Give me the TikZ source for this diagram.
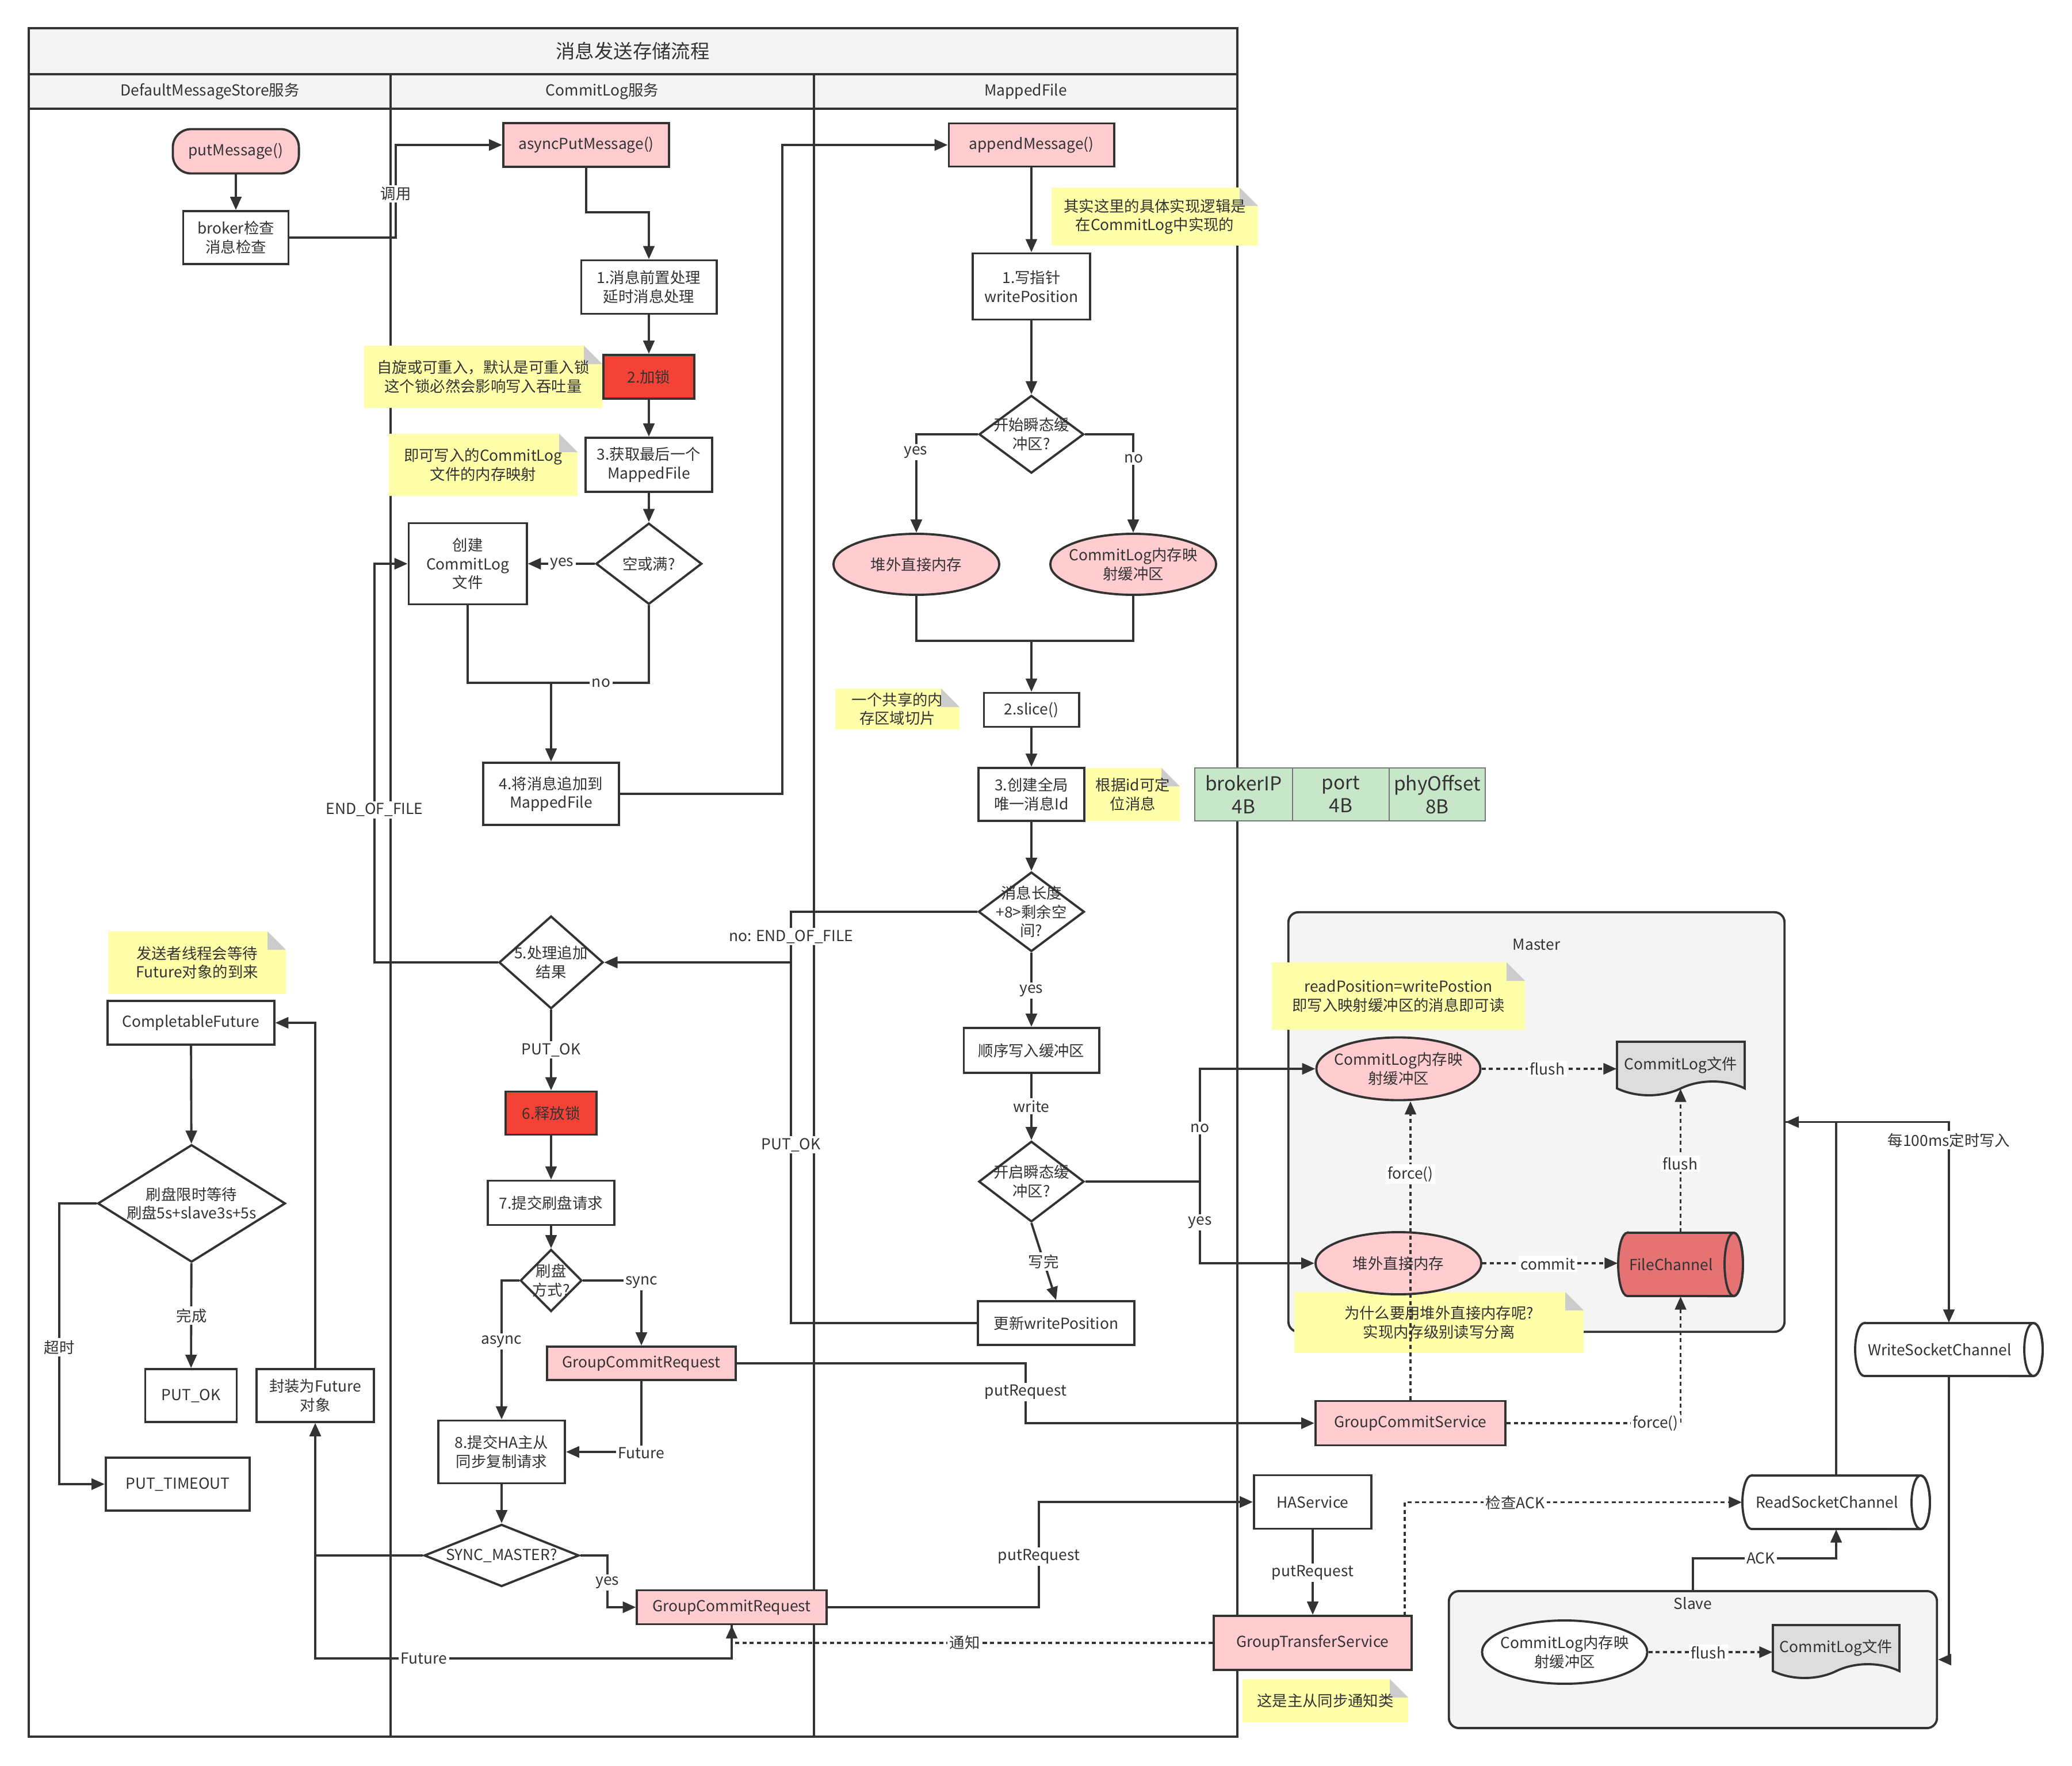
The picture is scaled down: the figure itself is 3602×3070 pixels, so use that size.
\documentclass[tikz,border=0pt]{standalone}
\usepackage{fontspec}
\setmainfont{Noto Sans CJK SC}
\usetikzlibrary{arrows.meta,shapes.geometric}
\definecolor{ln}{HTML}{333333}
\definecolor{pinkf}{HTML}{FFCCD0}
\definecolor{redf}{HTML}{F44336}
\definecolor{notef}{HTML}{FFFFAA}
\definecolor{foldf}{HTML}{CCCCCC}
\definecolor{greenf}{HTML}{C8E6C9}
\definecolor{cellln}{HTML}{777777}
\definecolor{greyf}{HTML}{F4F4F4}
\definecolor{docf}{HTML}{DDDDDD}
\definecolor{chanf}{HTML}{E57373}
\newcommand\fsn{\fontsize{7.5}{9.2}\selectfont}
\newcommand\fst{\fontsize{9.5}{11}\selectfont}
\newcommand\fsb{\fontsize{9.5}{11.5}\selectfont}
% sticky note: name, x0, y0, x1, y1, text (folded top-right corner)
\newcommand\stickynote[6]{%
  \fill[notef] (#2,#3) -- ({#4-32},#3) -- (#4,{#3+32}) -- (#4,#5) -- (#2,#5) -- cycle;
  \fill[foldf] ({#4-32},#3) -- ({#4-32},{#3+32}) -- (#4,{#3+32}) -- cycle;
  \node[txt] (#1) at ({(#2+#4)/2},{(#3+#5)/2}) {#6};}
\begin{document}
\begin{tikzpicture}[x=0.01cm,y=-0.01cm,
  every node/.style={font=\fsn, text=ln},
  txt/.style={align=center, inner sep=0pt},
  ghost/.style={inner sep=0pt},
  box/.style={rectangle, draw=ln, line width=1.1pt, fill=white, align=center, inner sep=0pt},
  pinkbox/.style={box, fill=pinkf},
  redbox/.style={box, fill=redf},
  dia/.style={diamond, draw=ln, line width=1.1pt, fill=white, inner sep=0pt},
  oval/.style={ellipse, draw=ln, line width=1.1pt, fill=pinkf, align=center, inner xsep=-8pt, inner ysep=0pt},
  cell/.style={rectangle, draw=cellln, line width=0.8pt, fill=greenf, align=center, inner sep=0pt, font=\fsb, minimum height=0.92cm},
  wire/.style={draw=ln, line width=1.1pt},
  conn/.style={wire, -{Triangle[length=6.5pt,width=5.5pt]}},
  dotline/.style={dash pattern=on 2pt off 1.6pt},
  lbl/.style={fill=white, inner sep=1pt},
  container/.style={draw=ln, line width=1.1pt, fill=greyf, rounded corners=5pt, inner sep=0pt}]

\fill[white] (0,0) rectangle (3602,3070);
\useasboundingbox (0,0) rectangle (3602,3070);

% swimlane frame
\fill[greyf] (50,49) rectangle (2151,189);
\draw[wire] (50,49) rectangle (2151,3019);
\draw[wire] (50,129) -- (2151,129);
\draw[wire] (50,189) -- (2151,189);
\draw[wire] (679,129) -- (679,3019);
\draw[wire] (1415,129) -- (1415,3019);
\node[txt, font=\fst] (title) at (1100,89) {消息发送存储流程};
\node[txt] (lane1) at (365,159) {DefaultMessageStore服务};
\node[txt] (lane2) at (1047,159) {CommitLog服务};
\node[txt] (lane3) at (1783,159) {MappedFile};

% master / slave groups
\node[container, minimum width=8.62cm, minimum height=7.29cm] (master) at (2671,1950.5) {};
\node[txt] (masterT) at (2671,1642) {Master};
\node[container, minimum width=8.48cm, minimum height=2.38cm] (slave) at (2943,2885) {};
\node[txt] (slaveT) at (2943,2787) {Slave};

% message id layout
\node[cell, minimum width=1.70cm] (tIP) at (2162,1381) {brokerIP\\4B};
\node[cell, minimum width=1.68cm] (tPort) at (2331,1381) {port\\4B};
\node[cell, minimum width=1.67cm] (tOff) at (2498.5,1381) {phyOffset\\8B};

% notes
\stickynote{nLock}{633}{601}{1047}{709}{自旋或可重入，默认是可重入锁\\这个锁必然会影响写入吞吐量}
\stickynote{nMap}{676}{754}{1004}{862}{即可写入的CommitLog\\文件的内存映射}
\stickynote{nImpl}{1828}{326}{2187}{427}{其实这里的具体实现逻辑是\\在CommitLog中实现的}
\stickynote{nSlice}{1452}{1197}{1668}{1268}{一个共享的内\\存区域切片}
\stickynote{nId}{1888}{1335}{2051}{1427}{根据id可定\\位消息}
\stickynote{nFuture}{188}{1619}{497}{1728}{发送者线程会等待\\Future对象的到来}
\stickynote{nRead}{2211}{1673}{2651}{1790}{readPosition=writePostion\\即写入映射缓冲区的消息即可读}
\stickynote{nWhy}{2250}{2246}{2753}{2352}{为什么要用堆外直接内存呢?\\实现内存级别读写分离}
\stickynote{nGts}{2160}{2919}{2448}{2994}{这是主从同步通知类}

% document shapes
\filldraw[fill=docf, draw=ln, line width=1.1pt] (2811,1811) -- (3033,1811) -- (3033,1892)
  .. controls (2999.7,1876) and (2955.3,1876) .. (2922,1892)
  .. controls (2888.7,1908) and (2844.3,1908) .. (2811,1892) -- cycle;
\filldraw[fill=docf, draw=ln, line width=1.1pt] (3082,2825) -- (3302,2825) -- (3302,2905)
  .. controls (3269,2889) and (3225,2889) .. (3192,2905)
  .. controls (3159,2921) and (3115,2921) .. (3082,2905) -- cycle;

% horizontal cylinders
\filldraw[fill=chanf, draw=ln, line width=1.1pt] (2829,2143) -- (3014,2143)
  arc[start angle=90, end angle=-90, x radius=0.16cm, y radius=0.55cm] -- (2829,2253)
  arc[start angle=270, end angle=90, x radius=0.16cm, y radius=0.55cm] -- cycle;
\draw[wire] (3014,2198) ellipse [x radius=0.16cm, y radius=0.55cm];
\filldraw[fill=white, draw=ln, line width=1.1pt] (3045,2565) -- (3339,2565)
  arc[start angle=90, end angle=-90, x radius=0.16cm, y radius=0.465cm] -- (3045,2658)
  arc[start angle=270, end angle=90, x radius=0.16cm, y radius=0.465cm] -- cycle;
\draw[wire] (3339,2611.5) ellipse [x radius=0.16cm, y radius=0.465cm];
\filldraw[fill=white, draw=ln, line width=1.1pt] (3241,2300) -- (3535,2300)
  arc[start angle=90, end angle=-90, x radius=0.16cm, y radius=0.46cm] -- (3241,2392)
  arc[start angle=270, end angle=90, x radius=0.16cm, y radius=0.46cm] -- cycle;
\draw[wire] (3535,2346) ellipse [x radius=0.16cm, y radius=0.46cm];

% ---- DefaultMessageStore lane
\node[pinkbox, rounded corners=9pt, minimum width=2.19cm, minimum height=0.77cm] (putMsg) at (410,263) {putMessage()};
\node[box, minimum width=1.83cm, minimum height=0.92cm] (broker) at (410,413) {broker检查\\消息检查};
\node[box, minimum width=2.89cm, minimum height=0.76cm] (cf) at (332,1778) {CompletableFuture};
\node[dia, minimum width=3.26cm, minimum height=2.04cm] (dWait) at (333,2092) {};
\node[txt] (dWaitT) at (dWait) {刷盘限时等待\\刷盘5s+slave3s+5s};
\node[box, minimum width=1.59cm, minimum height=0.92cm] (putok) at (332,2426) {PUT\_OK};
\node[box, minimum width=2.50cm, minimum height=0.92cm] (putto) at (309,2580) {PUT\_TIMEOUT};
\node[box, minimum width=2.04cm, minimum height=0.92cm] (wrapF) at (548,2426) {封装为Future\\对象};

% ---- CommitLog lane
\node[pinkbox, minimum width=2.88cm, minimum height=0.76cm] (async) at (1019,252) {asyncPutMessage()};
\node[box, minimum width=2.35cm, minimum height=0.93cm] (pre) at (1128,499) {1.消息前置处理\\延时消息处理};
\node[redbox, minimum width=1.58cm, minimum height=0.76cm] (lock) at (1128,655) {2.加锁};
\node[box, minimum width=2.20cm, minimum height=0.94cm] (last) at (1128,808) {3.获取最后一个\\MappedFile};
\node[dia, minimum width=1.84cm, minimum height=1.41cm] (dFull) at (1128,980) {};
\node[txt] (dFullT) at (dFull) {空或满?};
\node[box, minimum width=2.05cm, minimum height=1.41cm] (create) at (813,980) {创建\\CommitLog\\文件};
\node[box, minimum width=2.36cm, minimum height=1.08cm] (append) at (958,1380) {4.将消息追加到\\MappedFile};
\node[dia, minimum width=1.81cm, minimum height=1.61cm] (dRes) at (958,1673) {};
\node[txt] (dResT) at (dRes) {5.处理追加\\结果};
\node[redbox, minimum width=1.58cm, minimum height=0.75cm] (unlock) at (958,1935) {6.释放锁};
\node[box, minimum width=2.20cm, minimum height=0.77cm] (submit) at (958,2091) {7.提交刷盘请求};
\node[dia, minimum width=1.07cm, minimum height=1.08cm] (dMode) at (958,2226) {};
\node[txt] (dModeT) at (dMode) {刷盘\\方式?};
\node[pinkbox, minimum width=3.28cm, minimum height=0.58cm] (gcr1) at (1115,2370) {GroupCommitRequest};
\node[box, minimum width=2.20cm, minimum height=1.09cm] (ha) at (872,2524) {8.提交HA主从\\同步复制请求};
\node[dia, minimum width=2.69cm, minimum height=1.08cm] (dSync) at (872,2704) {};
\node[txt] (dSyncT) at (dSync) {SYNC\_MASTER?};
\node[pinkbox, minimum width=3.29cm, minimum height=0.59cm] (gcr2) at (1272,2794) {GroupCommitRequest};

% ---- MappedFile lane
\node[pinkbox, minimum width=2.87cm, minimum height=0.75cm] (appendM) at (1793,252) {appendMessage()};
\node[box, minimum width=2.04cm, minimum height=1.15cm] (wp) at (1793,498) {1.写指针\\writePosition};
\node[dia, minimum width=1.82cm, minimum height=1.35cm] (dTrans) at (1793,755) {};
\node[txt] (dTransT) at (dTrans) {开始瞬态缓\\冲区?};
\node[oval, minimum width=2.88cm, minimum height=1.06cm] (eDirect) at (1593,981) {堆外直接内存};
\node[oval, minimum width=2.88cm, minimum height=1.06cm] (eMap) at (1970,981) {CommitLog内存映\\射缓冲区};
\node[box, minimum width=1.65cm, minimum height=0.59cm] (slice) at (1793,1234) {2.slice()};
\node[box, minimum width=1.84cm, minimum height=0.92cm] (msgid) at (1793,1381) {3.创建全局\\唯一消息Id};
\node[dia, minimum width=1.84cm, minimum height=1.38cm] (dLen) at (1793,1585) {};
\node[txt] (dLenT) at (dLen) {消息长度\\+8>剩余空\\间?};
\node[box, minimum width=2.35cm, minimum height=0.78cm] (seq) at (1793,1826) {顺序写入缓冲区};
\node[dia, minimum width=1.83cm, minimum height=1.40cm] (dOpen) at (1793,2054) {};
\node[txt] (dOpenT) at (dOpen) {开启瞬态缓\\冲区?};
\node[box, minimum width=2.72cm, minimum height=0.76cm] (upd) at (1836,2300) {更新writePosition};

% ---- master / slave internals
\node[oval, minimum width=2.85cm, minimum height=1.09cm] (mMap) at (2431,1858) {CommitLog内存映\\射缓冲区};
\node[ghost, minimum width=2.22cm, minimum height=0.81cm] (mFile) at (2922,1851.5) {CommitLog文件};
\node[oval, minimum width=2.88cm, minimum height=1.08cm] (mDirect) at (2431,2196) {堆外直接内存};
\node[ghost, minimum width=2.17cm, minimum height=1.10cm] (mChan) at (2921.5,2198) {};
\node[txt] (mChanT) at (2905,2198) {FileChannel};
\node[pinkbox, minimum width=3.30cm, minimum height=0.77cm] (gcs) at (2452,2474) {GroupCommitService};
\node[box, minimum width=2.04cm, minimum height=0.93cm] (hasvc) at (2282,2611) {HAService};
\node[pinkbox, minimum width=3.44cm, minimum height=0.94cm] (gts) at (2282,2856) {GroupTransferService};
\node[ghost, minimum width=3.26cm, minimum height=0.93cm] (rsc) at (3192,2611.5) {};
\node[txt] (rscT) at (3176,2611.5) {ReadSocketChannel};
\node[ghost, minimum width=3.26cm, minimum height=0.92cm] (wsc) at (3388,2346) {};
\node[txt] (wscT) at (3372,2346) {WriteSocketChannel};
\node[oval, fill=white, minimum width=2.87cm, minimum height=1.10cm] (sMap) at (2720,2872) {CommitLog内存映\\射缓冲区};
\node[ghost, minimum width=2.20cm, minimum height=0.80cm] (sFile) at (3192,2865) {CommitLog文件};

% junction points
\coordinate (jNo) at (958,1187);
\coordinate (jSlice) at (1793,1114);
\coordinate (jEof) at (1375,1673);
\coordinate (jOpen) at (2086,2054);
\coordinate (gtsUp) at (2442,2809);

% ---- connectors
\draw[conn] (putMsg) -- (broker);
\draw[conn] (broker.east) -- (688,413) -- (688,252) -- (async.west);
\draw[conn] (async.south) -- (1019,369) -| (pre.north);
\draw[conn] (pre) -- (lock);
\draw[conn] (lock) -- (last);
\draw[conn] (last) -- (dFull);
\draw[conn] (dFull.west) -- (create.east);
\draw[wire] (create.south) |- (jNo);
\draw[wire] (dFull.south) |- (jNo);
\draw[conn] (jNo) -- (append.north);
\draw[conn] (append.east) -- (1360,1380) |- (appendM.west);
\draw[conn] (appendM) -- (wp);
\draw[conn] (wp) -- (dTrans);
\draw[conn] (dTrans.west) -| (eDirect.north);
\draw[conn] (dTrans.east) -| (eMap.north);
\draw[wire] (eDirect.south) |- (jSlice);
\draw[wire] (eMap.south) |- (jSlice);
\draw[conn] (jSlice) -- (slice.north);
\draw[conn] (slice) -- (msgid);
\draw[conn] (msgid) -- (dLen);
\draw[conn] (dLen.west) -- (1375,1585) -- (jEof) -- (dRes.east);
\draw[conn] (dLen) -- (seq);
\draw[conn] (seq) -- (dOpen);
\draw[conn] (dOpen.south) -- (upd.north);
\draw[conn] (upd.west) -- (1375,2300) -- (jEof) -- (dRes.east);
\draw[conn] (dRes.west) -- (651,1673) -- (651,980) -- (create.west);
\draw[conn] (dRes) -- (unlock);
\draw[conn] (unlock) -- (submit);
\draw[conn] (submit) -- (dMode);
\draw[conn] (dMode.west) -| (ha.north);
\draw[conn] (dMode.east) -| (gcr1.north);
\draw[conn] (gcr1.south) |- (ha.east);
\draw[conn] (ha) -- (dSync);
\draw[conn] (dSync.east) -- (1056,2704) |- (gcr2.west);
\draw[conn] (dSync.west) -| (wrapF.south);
\draw[conn] (gcr2.south) -- (1272,2883) -| (wrapF.south);
\draw[conn] (wrapF.north) |- (cf.east);
\draw[conn] (cf) -- (dWait);
\draw[conn] (dWait) -- (putok);
\draw[conn] (dWait.west) -- (103,2092) |- (putto.west);
\draw[conn] (gcr1.east) -- (1783,2370) |- (gcs.west);
\draw[conn] (gcr2.east) -- (1806,2794) |- (hasvc.west);
\draw[conn] (hasvc) -- (gts);
\draw[conn, dotline] (gts.west) -| (gcr2.south);
\draw[wire] (dOpen.east) -- (jOpen);
\draw[conn] (jOpen) |- (mMap.west);
\draw[conn] (jOpen) |- (mDirect.west);
\draw[conn, dotline] (mMap.east) -- (mMap.east -| mFile.west);
\draw[conn, dotline] (mDirect.east) -- (mDirect.east -| mChan.west);
\draw[conn, dotline] (gcs.north) -- (gcs.north |- mMap.south);
\draw[conn, dotline] (gcs.east) -| (mChan.south);
\draw[conn, dotline] (mChan.north) -- (mChan.north |- mFile.south);
\draw[conn] (rsc.north) |- (master.east);
\draw[conn] (master.east) -- (3388,1950.5) -- (wsc.north);
\draw[conn] (wsc.south) |- (slave.east);
\draw[conn, dotline] (gtsUp) |- (rsc.west);
\draw[conn] (slave.north) -- (2943,2709) -| (rsc.south);
\draw[conn, dotline] (sMap.east) -- (sMap.east -| sFile.west);

% ---- connector labels
\node[lbl] (lCall) at (688,337) {调用};
\node[lbl] (lYes1) at (977,980) {yes};
\node[lbl] (lNo1) at (1045,1187) {no};
\node[lbl] (lEof) at (651,1408) {END\_OF\_FILE};
\node[lbl] (lOk1) at (958,1825) {PUT\_OK};
\node[lbl] (lNoEof) at (1375,1628) {no: END\_OF\_FILE};
\node[lbl] (lOk2) at (1375,1990) {PUT\_OK};
\node[lbl] (lYes2) at (1592,786) {yes};
\node[lbl] (lNo2) at (1971,797) {no};
\node[lbl] (lYes3) at (1793,1722) {yes};
\node[lbl] (lWrite) at (1793,1923) {write};
\node[lbl] (lDone) at (1814,2193) {写完};
\node[lbl] (lNo3) at (2086,1961) {no};
\node[lbl] (lYes4) at (2086,2125) {yes};
\node[lbl] (lAsync) at (872,2332) {async};
\node[lbl] (lSync) at (1115,2229) {sync};
\node[lbl] (lFut1) at (1115,2526) {Future};
\node[lbl] (lYes5) at (1056,2751) {yes};
\node[lbl] (lFut2) at (737,2883) {Future};
\node[lbl] (lDone2) at (333,2287) {完成};
\node[lbl] (lTimeout) at (103,2342) {超时};
\node[lbl] (lPut1) at (1783,2420) {putRequest};
\node[lbl] (lPut2) at (1806,2706) {putRequest};
\node[lbl] (lPut3) at (2282,2734) {putRequest};
\node[lbl] (lNotify) at (1677,2855) {通知};
\node[lbl] (lFlush1) at (2690,1858) {flush};
\node[lbl] (lCommit) at (2691,2197) {commit};
\node[lbl] (lForce1) at (2452,2041) {force()};
\node[lbl] (lFlush2) at (2921,2023) {flush};
\node[lbl] (lForce2) at (2878,2474) {force()};
\node[lbl] (lEvery) at (3388,1982) {每100ms定时写入};
\node[lbl] (lAck) at (3061,2709) {ACK};
\node[lbl] (lCheck) at (2634,2612) {检查ACK};
\node[lbl] (lFlush3) at (2970,2873) {flush};
\end{tikzpicture}
\end{document}
